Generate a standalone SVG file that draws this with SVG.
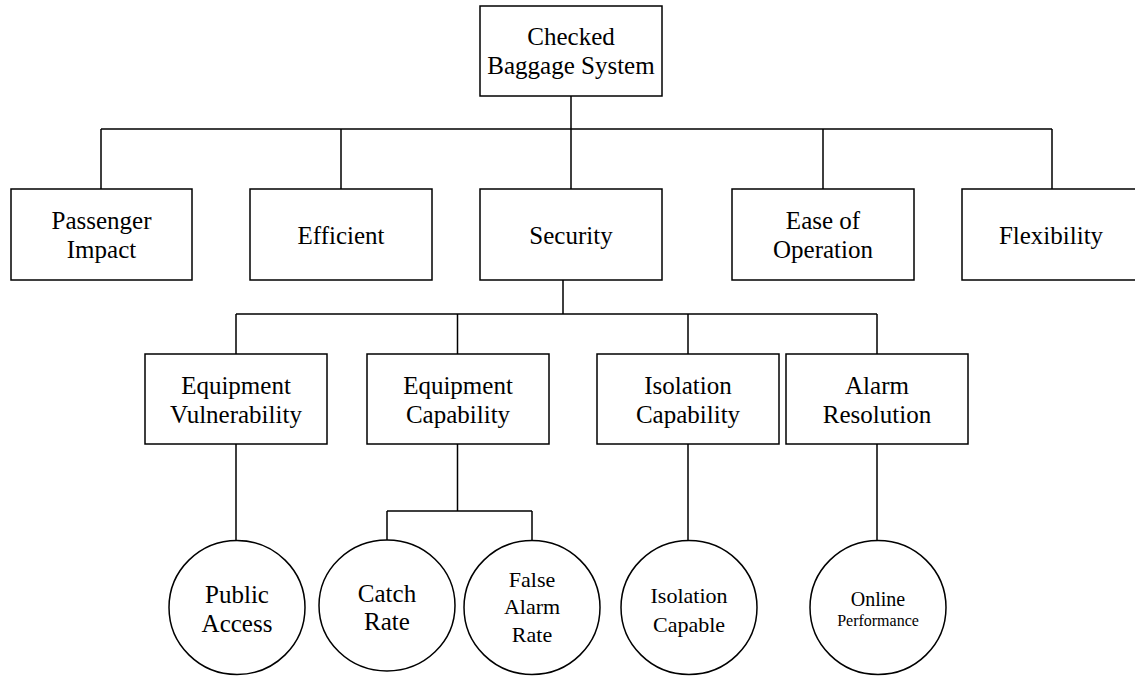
<svg xmlns="http://www.w3.org/2000/svg" width="1135" height="676" viewBox="0 0 1135 676">
<style>
.n{fill:#fff;stroke:#000;stroke-width:1.5}
.c{fill:none;stroke:#000;stroke-width:1.5}
text{font-family:"Liberation Serif","Times New Roman",serif;fill:#000;text-anchor:middle}
.t25{font-size:25px}
.t22{font-size:22px}
.t20{font-size:20px}
.t16{font-size:16px}
</style>
<rect width="1135" height="676" fill="#fff"/>
<g id="connectors">
<path class="c" d="M571,96V129M101,129H1052M101,129V189M341,129V189M571,129V189M823,129V189M1052,129V189"/>
<path class="c" d="M563,280V314M236,314H877M236,314V354M457.5,314V354M688,314V354M877,314V354"/>
<path class="c" d="M236,444V540M457.5,444V511M387,511H532M387,511V540M532,511V540M688,444V540M877,444V540"/>
</g>
<g id="root"><rect class="n" x="480" y="6" width="182" height="90"/><text class="t25" x="571" y="45">Checked</text><text class="t25" x="571" y="74">Baggage System</text></g>
<g id="passenger"><rect class="n" x="11" y="189" width="181" height="91"/><text class="t25" x="101.5" y="229">Passenger</text><text class="t25" x="101.5" y="258">Impact</text></g>
<g id="efficient"><rect class="n" x="250" y="189" width="182" height="91"/><text class="t25" x="341" y="244">Efficient</text></g>
<g id="security"><rect class="n" x="480" y="189" width="182" height="91"/><text class="t25" x="571" y="244">Security</text></g>
<g id="ease"><rect class="n" x="732" y="189" width="182" height="91"/><text class="t25" x="823" y="229">Ease of</text><text class="t25" x="823" y="258">Operation</text></g>
<g id="flexibility"><rect class="n" x="962" y="189" width="182" height="91"/><text class="t25" x="1051" y="244">Flexibility</text></g>
<g id="equip-vuln"><rect class="n" x="145" y="354" width="182" height="90"/><text class="t25" x="236" y="394">Equipment</text><text class="t25" x="236" y="423">Vulnerability</text></g>
<g id="equip-cap"><rect class="n" x="367" y="354" width="182" height="90"/><text class="t25" x="458" y="394">Equipment</text><text class="t25" x="458" y="423">Capability</text></g>
<g id="isolation-cap"><rect class="n" x="597" y="354" width="182" height="90"/><text class="t25" x="688" y="394">Isolation</text><text class="t25" x="688" y="423">Capability</text></g>
<g id="alarm-res"><rect class="n" x="786" y="354" width="182" height="90"/><text class="t25" x="877" y="394">Alarm</text><text class="t25" x="877" y="423">Resolution</text></g>
<g id="public-access"><ellipse class="n" cx="237" cy="607.5" rx="68" ry="67"/><text class="t25" x="237" y="603">Public</text><text class="t25" x="237" y="632">Access</text></g>
<g id="catch-rate"><ellipse class="n" cx="387" cy="605.5" rx="68" ry="65.5"/><text class="t25" x="387" y="602">Catch</text><text class="t25" x="387" y="630">Rate</text></g>
<g id="false-alarm"><ellipse class="n" cx="532" cy="607.5" rx="68" ry="67"/><text class="t22" x="532" y="587">False</text><text class="t22" x="532" y="614">Alarm</text><text class="t22" x="532" y="642">Rate</text></g>
<g id="isolation-capable"><ellipse class="n" cx="689" cy="607.5" rx="68" ry="67"/><text class="t22" x="689" y="603">Isolation</text><text class="t22" x="689" y="632">Capable</text></g>
<g id="online-perf"><ellipse class="n" cx="878" cy="607.5" rx="68" ry="67"/><text class="t20" x="878" y="606">Online</text><text class="t16" x="878" y="626">Performance</text></g>
</svg>
